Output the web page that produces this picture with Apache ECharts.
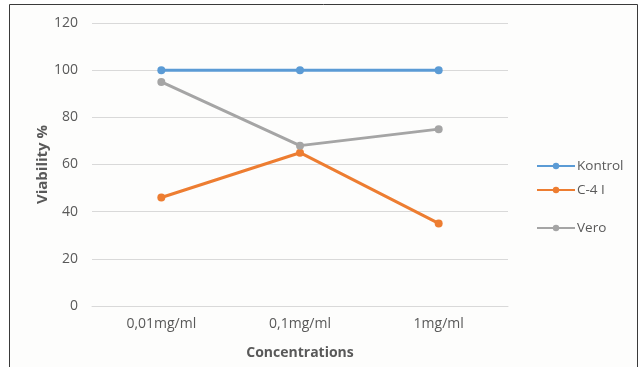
<!DOCTYPE html>
<html>
<head>
<meta charset="utf-8">
<script src="https://cdn.jsdelivr.net/npm/echarts@6/dist/echarts.min.js"></script>
<style>
  html, body { margin: 0; padding: 0; background: #ffffff; }
  #chart { width: 642px; height: 367px; }
</style>
</head>
<body>
<div id="chart"></div>
<script>
// Concentrations on the x axis
const categories = ['0,01mg/ml', '0,1mg/ml', '1mg/ml'];
// Viability (%) per series
const kontrol = [100, 100, 100];
const c41 = [46, 65, 35];
const vero = [95, 68, 75];

const FONT = '"Open Sans", "Liberation Sans", sans-serif';
const colors = { kontrol: '#5b9bd5', c41: '#ed7d31', vero: '#a5a5a5' };

function lineSeries(name, data, color) {
  return {
    name: name,
    type: 'line',
    data: data,
    symbol: 'circle',
    symbolSize: 8,
    lineStyle: { width: 3, color: color },
    itemStyle: { color: color },
    emphasis: { disabled: true }
  };
}

function legendAt(name, top) {
  return {
    data: [name],
    left: 531,
    top: top,
    itemWidth: 38,
    itemHeight: 8,
    itemGap: 2,
    textStyle: { color: '#595959', fontSize: 13.5, fontFamily: FONT, padding: [0, 0, 0, -3] },
    selectedMode: false
  };
}

const chart = echarts.init(document.getElementById('chart'));
chart.setOption({
  animation: false,
  backgroundColor: '#ffffff',
  graphic: [{
    type: 'rect',
    shape: { x: 9.5, y: 4.5, width: 628, height: 370 },
    style: { fill: '#fdfdfc', stroke: '#3a3a3a', lineWidth: 1 },
    z: -10
  }],
  legend: [
    legendAt('Kontrol', 154),
    legendAt('C-4 I', 178),
    legendAt('Vero', 216)
  ],
  grid: { left: 92, right: 134, top: 23, bottom: 61 },
  xAxis: {
    type: 'category',
    data: categories,
    boundaryGap: true,
    name: 'Concentrations',
    nameLocation: 'middle',
    nameGap: 40,
    nameMoveOverlap: false,
    nameTextStyle: { color: '#595959', fontSize: 14, fontWeight: 'bold', fontFamily: FONT },
    axisLine: { lineStyle: { color: '#d9d9d9', width: 1 } },
    axisTick: { show: false },
    axisLabel: { color: '#595959', fontSize: 14, fontFamily: FONT, margin: 11 }
  },
  yAxis: {
    type: 'value',
    min: 0,
    max: 120,
    interval: 20,
    name: 'Viability %',
    nameLocation: 'middle',
    nameGap: 42,
    nameMoveOverlap: false,
    nameTextStyle: { color: '#595959', fontSize: 15, fontWeight: 'bold', fontFamily: FONT },
    axisLine: { show: false },
    axisTick: { show: false },
    axisLabel: { color: '#595959', fontSize: 14, fontFamily: FONT, margin: 14 },
    splitLine: { lineStyle: { color: '#d9d9d9', width: 1 } }
  },
  series: [
    lineSeries('Kontrol', kontrol, colors.kontrol),
    lineSeries('C-4 I', c41, colors.c41),
    lineSeries('Vero', vero, colors.vero)
  ]
});
</script>
</body>
</html>
